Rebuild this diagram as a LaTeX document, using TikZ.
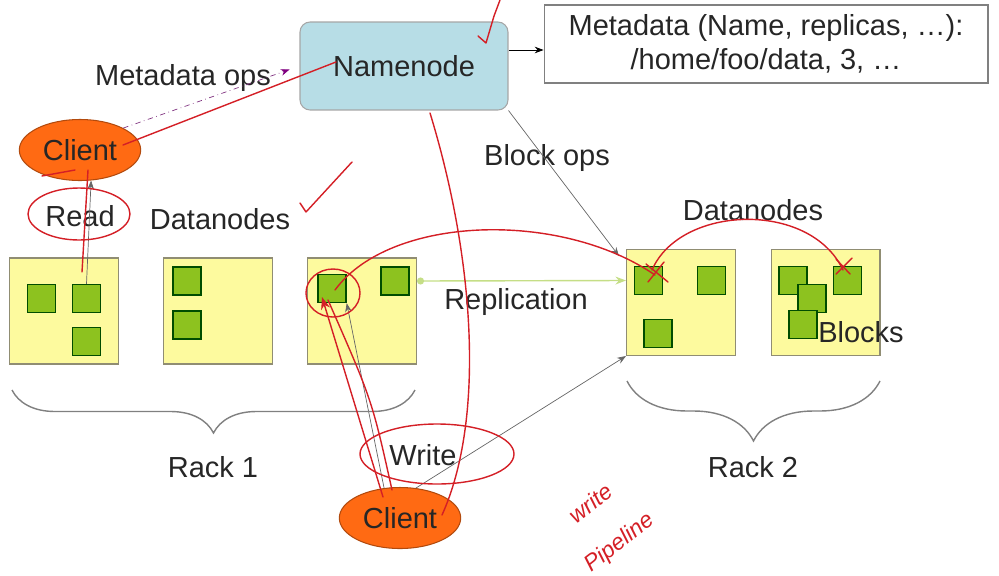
\documentclass[tikz,border=0pt]{standalone}
\usepackage{fontspec}
\setmainfont{Liberation Sans}
\usetikzlibrary{arrows.meta, positioning, shapes.geometric, decorations.pathreplacing, calc}
\definecolor{nnblue}{HTML}{B7DDE6}
\definecolor{dnyellow}{HTML}{FDFA9E}
\definecolor{blkgreen}{HTML}{8DC21F}
\definecolor{clorange}{HTML}{FF6A13}
\definecolor{pen}{HTML}{D41F26}
\definecolor{replgreen}{HTML}{C5DE86}

\begin{document}
\begin{tikzpicture}[x=0.02cm, y=-0.02cm,
    font=\fontsize{16.5}{19}\selectfont, text=black!85,
    namebox/.style={draw=gray!70, rounded corners=0.2cm, fill=nnblue, semithick,
                    minimum width=4.16cm, minimum height=1.76cm},
    metabox/.style={draw=gray, fill=white, semithick, align=center,
                    minimum width=8.88cm, minimum height=1.56cm},
    client/.style={ellipse, draw=clorange!70!black, fill=clorange, semithick,
                   minimum width=2.18cm, minimum height=1.22cm},
    datanode/.style={draw=gray!80!olive, fill=dnyellow, semithick,
                     minimum width=2.18cm, minimum height=2.12cm},
    block/.style={draw=green!30!black, fill=blkgreen, thick, minimum size=0.56cm},
    lbl/.style={inner sep=1pt},
    hand/.style={pen, rotate=38, inner sep=0pt, font=\itshape\fontsize{13}{15}\selectfont},
    arr/.style={-{Stealth[length=5pt]}, gray!80!black, thin},
    brace/.style={decorate, draw=gray, thick},
    redpen/.style={pen, thick, line cap=round, line join=round}
  ]
  \useasboundingbox (0,0) rectangle (999,575);

  \node[namebox] (namenode) at (404,66) {Namenode};
  \node[metabox] (meta) at (766,44) {Metadata (Name, replicas, \dots):\\/home/foo/data, 3, \dots};
  \node[client] (clientA) at (80,150) {Client};
  \node[client] (clientB) at (400,518) {Client};

  \node[datanode] (dn1) at (64,311) {};
  \node[datanode] (dn2) at (218,311) {};
  \node[datanode] (dn3) at (362,311) {};
  \node[datanode] (dn4) at (681,302.5) {};
  \node[datanode] (dn5) at (825.5,302.5) {};

  \foreach \n/\x/\y in {b11/41.5/298.5, b12/86.5/298.5, b13/86.5/341.5,
                        b21/187/281, b22/187/325,
                        b31/332/288.5, b32/395/281,
                        b41/648.5/280.5, b42/711.5/280.5, b43/658/333.5,
                        b51/793/280.5, b52/812/298.5, b53/803/324.5, b54/847.5/280.5}
    \node[block] (\n) at (\x,\y) {};

  \node[lbl] (lblMeta)  at (183,78)  {Metadata ops};
  \node[lbl] (lblBlock) at (547,158) {Block ops};
  \node[lbl] (lblRead)  at (80,216)  {Read};
  \node[lbl] (lblDnA)   at (220,219) {Datanodes};
  \node[lbl] (lblDnB)   at (753,210) {Datanodes};
  \node[lbl] (lblRepl)  at (516,302) {Replication};
  \node[lbl] (lblBlk)   at (861,332) {Blocks};
  \node[lbl] (lblRackA) at (213,467) {Rack 1};
  \node[lbl] (lblRackB) at (753,467) {Rack 2};
  \node[lbl] (lblWrite) at (423,455) {Write};

  \draw[arr, black] ([yshift=0.32cm]namenode.east) -- ([yshift=0.32cm]namenode.east -| meta.west);
  \draw[violet!60!gray, dash dot, -{Stealth[length=5pt, violet]}, shorten >=6pt]
    (clientA.north east) -- (namenode.west);
  \draw[arr] (namenode.south east) -- ([shift={(-4pt,-4pt)}]dn4.north west);
  \draw[arr] (b12.north) -- (clientA.-70);
  \draw[replgreen, thick, {Circle[length=4pt]}-{Stealth[length=6pt]}]
    (b32.east -| dn3.east) -- (b41.west -| dn4.west);
  \draw[arr] (clientB.118) -- (b31.south east);
  \draw[arr] (clientB.62) -- (dn4.south west);

  \draw[brace, decoration={brace, mirror, amplitude=0.86cm}] (12,390) -- (415,390);
  \draw[brace, decoration={brace, mirror, amplitude=1.2cm}] (627,381) -- (880,381);

  % annotations
  \draw[redpen] (478,36) -- (486,43) -- (494,16) -- (500,0);
  \draw[redpen] (123,145) -- (336,62);
  \draw[redpen] (300,203) -- (306,212) -- (352,162);
  \draw[redpen] (79,214) ellipse (51 and 26);
  \draw[redpen] (88,170) -- (82,272);
  \draw[redpen] (42,176) -- (75,170);
  \draw[redpen] (430,113) .. controls (475,260) and (485,420) .. (442,515);
  \draw[redpen] (333,293) ellipse (27 and 24);
  \draw[redpen] (335,290) .. controls (390,215) and (560,210) .. (655,275);
  \draw[redpen] (652,270) .. controls (680,205) and (810,200) .. (843,270);
  \draw[redpen] (646,264) -- (668,282) (648,282) -- (664,262);
  \draw[redpen] (836,259) -- (850,274) (836,274) -- (852,258);
  \draw[redpen, -{Stealth[length=7pt]}] (383,497) -- (322,297);
  \draw[redpen] (392,490) .. controls (372,400) .. (328,300);
  \draw[redpen] (437,454) ellipse (77 and 30);
  \node[hand] (handA) at (590,503) {write};
  \node[hand] (handB) at (620,543) {Pipeline};
\end{tikzpicture}
\end{document}
